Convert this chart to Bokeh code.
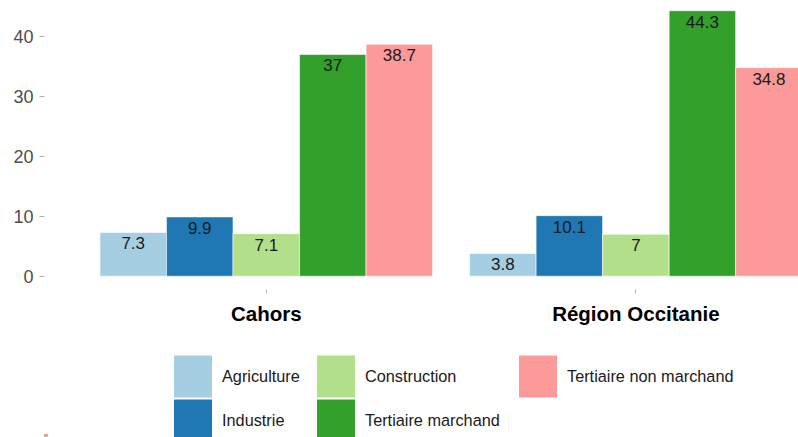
from bokeh.plotting import figure
from bokeh.models import ColumnDataSource, Range1d, FixedTicker, Legend, LegendItem
from bokeh.layouts import column
from bokeh.core.properties import value
from bokeh.embed import file_html
from bokeh.resources import INLINE

regions = ["Cahors", "Région Occitanie"]
sectors = ["Agriculture", "Industrie", "Construction", "Tertiaire marchand", "Tertiaire non marchand"]
colors = ["#A6CEE3", "#1F78B4", "#B2DF8A", "#33A02C", "#FB9A99"]
agriculture = [7.3, 3.8]
industrie = [9.9, 10.1]
construction = [7.1, 7.0]
tertiaire_marchand = [37.0, 44.3]
tertiaire_non_marchand = [38.7, 34.8]
series = [agriculture, industrie, construction, tertiaire_marchand, tertiaire_non_marchand]
y_ticks = [0, 10, 20, 30, 40]

FONT = "Liberation Sans"

p = figure(output_backend="svg", toolbar_location=None,
           frame_width=754, frame_height=289,
           x_range=Range1d(0.4, 2.44), y_range=Range1d(-2.215, 46.0),
           min_border_left=44, min_border_right=0, min_border_top=0, min_border_bottom=40)
p.title.visible = False
p.outline_line_color = None
p.grid.visible = False
p.background_fill_color = "white"
p.border_fill_color = "white"

group_w = 0.9
bar_w = group_w / len(sectors)
xpos = list(range(1, len(regions) + 1))

# legend-only figure below the chart (its ranges keep the shared bars well out of view)
lp = figure(output_backend="svg", toolbar_location=None, width=798, height=108,
            x_range=Range1d(3, 4), y_range=Range1d(60, 61),
            min_border_left=0, min_border_right=0, min_border_top=0, min_border_bottom=0)
lp.title.visible = False
lp.axis.visible = False
lp.grid.visible = False
lp.outline_line_color = None

leg_items = []
for i, (name, vals, col) in enumerate(zip(sectors, series, colors)):
    off = (i - (len(sectors) - 1) / 2) * bar_w
    src = ColumnDataSource(dict(x=[x + off for x in xpos], top=vals,
                                lab=[f"{v:g}" for v in vals]))
    p.vbar(x="x", top="top", bottom=0, width=bar_w, source=src,
           fill_color=col, line_color="white", line_alpha=0.6, line_width=1)
    p.text(x="x", y="top", text="lab", source=src, text_align="center",
           text_baseline="top", y_offset=5, text_font=value(FONT),
           text_font_size="17px", text_color="#1a1a1a")
    lr = lp.vbar(x="x", top="top", bottom=0, width=bar_w, source=src,
                 fill_color=col, line_color=col, line_width=6.8, line_join="miter")
    leg_items.append(LegendItem(label=name, renderers=[lr]))

# axes
p.xaxis.ticker = FixedTicker(ticks=xpos)
p.xaxis.major_label_overrides = {x: r for x, r in zip(xpos, regions)}
p.xaxis.axis_line_color = None
p.xaxis.minor_tick_line_color = None
p.xaxis.major_tick_in = 0
p.xaxis.major_tick_out = 4
p.xaxis.major_tick_line_color = "#b3b3b3"
p.xaxis.major_label_standoff = 8
p.xaxis.major_label_text_font = FONT
p.xaxis.major_label_text_font_size = "20.5px"
p.xaxis.major_label_text_font_style = "bold"
p.xaxis.major_label_text_color = "#000000"

p.yaxis.ticker = FixedTicker(ticks=y_ticks)
p.yaxis.axis_line_color = None
p.yaxis.minor_tick_line_color = None
p.yaxis.major_tick_in = 0
p.yaxis.major_tick_out = 5
p.yaxis.major_tick_line_color = "#b3b3b3"
p.yaxis.major_label_standoff = 6
p.yaxis.major_label_text_font = FONT
p.yaxis.major_label_text_font_size = "18px"
p.yaxis.major_label_text_color = "#4d4d4d"

# legend columns (ggplot fills by column: 2 rows)
legend_cols = [(leg_items[0:2], (129, -5)), (leg_items[2:4], (272, -5)), (leg_items[4:5], (474, 39))]
for its, loc in legend_cols:
    lg = Legend(items=its, location=loc, orientation="vertical",
                glyph_width=39, glyph_height=44, label_standoff=10, spacing=0,
                padding=0, margin=0, border_line_color=None, background_fill_alpha=0,
                label_text_font=FONT, label_text_font_size="16.3px", label_text_color="#1a1a1a",
                label_height=20)
    lp.add_layout(lg, "center")

layout = column(p, lp, spacing=0)
open("out.html", "w").write(file_html(layout, INLINE))
